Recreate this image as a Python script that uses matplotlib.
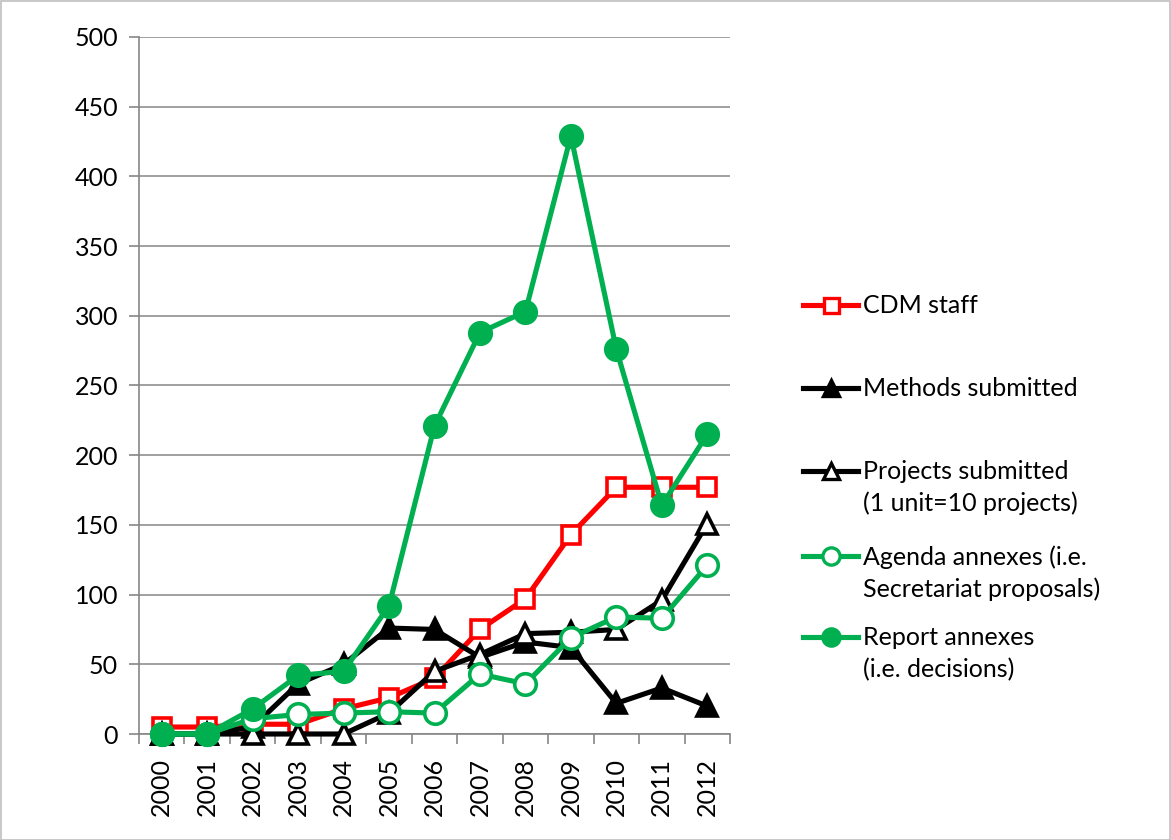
import matplotlib
matplotlib.use("Agg")
import matplotlib.pyplot as plt
from matplotlib.lines import Line2D
from matplotlib.patches import Rectangle
import numpy as np

years = ["2000", "2001", "2002", "2003", "2004", "2005", "2006", "2007", "2008", "2009", "2010", "2011", "2012"]
cdm_staff = [5, 5, 7, 7, 18, 26, 40, 75, 97, 143, 177, 177, 177]
methods = [0, 0, 5, 36, 50, 76, 75, 55, 66, 62, 22, 33, 20]
projects = [0, 0, 0, 0, 0, 15, 45, 57, 72, 73, 75, 96, 151]
agenda = [0, 0, 11, 14, 15, 16, 15, 43, 36, 69, 84, 83, 121]
report = [0, 0, 18, 42, 45, 92, 221, 288, 303, 429, 276, 164, 215]
labels = ["CDM staff", "Methods submitted", "Projects submitted\n(1 unit=10 projects)",
          "Agenda annexes (i.e.\nSecretariat proposals)", "Report annexes\n(i.e. decisions)"]
yticks = [0, 50, 100, 150, 200, 250, 300, 350, 400, 450, 500]

plt.rcParams['font.family'] = ['Lato', 'DejaVu Sans']
FS = 18
W, H = 1171, 840
fig = plt.figure(figsize=(W / 100, H / 100), dpi=100)
fig.add_artist(Rectangle((0.5 / W, 0.5 / H), 1 - 1.5 / W, 1 - 1.5 / H, transform=fig.transFigure,
                         fill=False, edgecolor="#bfbfbf", lw=1.2))
ax = fig.add_axes([139 / W, 1 - 734 / H, (730 - 139) / W, (734 - 37) / H])

x = np.arange(len(years))
GREEN = "#00b050"
RED = "#ff0000"
series = [
    (cdm_staff, dict(color=RED, marker="s", mfc="white", mec=RED, ms=13.5)),
    (methods, dict(color="black", marker="^", mfc="black", mec="black", ms=14.5)),
    (projects, dict(color="black", marker="^", mfc="white", mec="black", ms=14.5)),
    (agenda, dict(color=GREEN, marker="o", mfc="white", mec=GREEN, ms=15.5)),
    (report, dict(color=GREEN, marker="o", mfc=GREEN, mec=GREEN, ms=15.5)),
]
zorders = [3, 4, 5, 6, 7]
for (vals, st), z in zip(series, zorders):
    ax.plot(x, vals, lw=3.7, mew=2.6, zorder=z, clip_on=False, **st)

ax.set_xlim(-0.5, len(years) - 0.5)
ax.set_ylim(0, 500)
ax.set_yticks(yticks)
ax.set_yticklabels([str(v) for v in yticks], fontsize=FS)
ax.set_xticks(x)
ax.set_xticklabels(years, rotation=90, fontsize=FS)
ax.set_xticks(np.arange(-0.5, len(years), 1), minor=True)
ax.tick_params(axis="x", which="major", length=0, pad=17)
ax.tick_params(axis="x", which="minor", length=7, width=1.2, color="#868686")
ax.tick_params(axis="y", length=7, width=1.2, color="#868686", pad=8)
ax.grid(axis="y", color="#868686", lw=1.1, zorder=0)
ax.set_axisbelow(True)
for s in ["top", "right"]:
    ax.spines[s].set_visible(False)
for s in ["left", "bottom"]:
    ax.spines[s].set_color("#868686")
    ax.spines[s].set_linewidth(1.2)

# legend drawn by hand (handle aligned with first line of each label)
leg_y = [305, 388, 471, 556, 637]
for (vals, st), lab, yy in zip(series, labels, leg_y):
    yf = 1 - yy / H
    fig.add_artist(Line2D([803 / W, 858 / W], [yf, yf], transform=fig.transFigure, lw=3.7, color=st["color"]))
    fig.add_artist(Line2D([831 / W], [yf], transform=fig.transFigure, marker=st["marker"], mfc=st["mfc"],
                          mec=st["mec"], ms=st["ms"] * 0.8, mew=2.4, lw=0))
    fig.text(863 / W, yf + 11 / H, lab, fontsize=FS, va="top", ha="left", linespacing=1.45)

fig.savefig("out.png", dpi=100)
